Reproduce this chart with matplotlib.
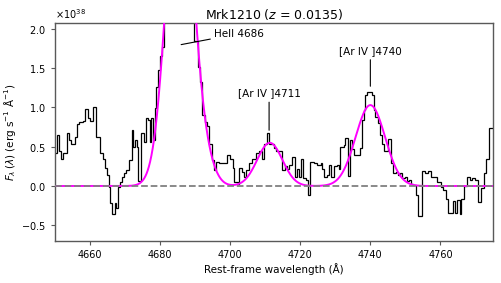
import numpy as np
import matplotlib
matplotlib.use("Agg")
import matplotlib.pyplot as plt

# ---- data ----
# left edges of spectral steps (rest-frame Angstrom) and flux (units of 1e38 erg/s/A)
seg_start = [4650.0, 4650.5, 4651.1, 4651.8, 4652.4, 4653.3, 4654.0, 4654.6, 4655.6, 4656.2,
             4656.8, 4658.1, 4658.7, 4659.4, 4660.1, 4660.8, 4661.7, 4662.7, 4663.7, 4664.4,
             4664.9, 4665.3, 4665.8, 4666.3, 4667.0, 4667.5, 4668.0, 4668.6, 4669.1, 4669.8,
             4670.4, 4671.0, 4671.9, 4672.4, 4672.9, 4673.4, 4673.7, 4674.6, 4675.3, 4676.0,
             4676.5, 4677.0, 4677.5, 4677.9, 4678.4, 4678.9, 4679.5, 4680.0, 4680.5, 4681.0,
             4681.6, 4682.2, 4682.8, 4683.4, 4684.0, 4684.6, 4685.2, 4685.8, 4686.4, 4687.0,
             4687.6, 4688.2, 4688.8, 4689.3, 4689.8, 4690.7, 4691.5, 4692.0, 4692.7, 4693.4,
             4694.0, 4694.7, 4695.4, 4695.9, 4696.9, 4699.0, 4700.0, 4700.7, 4701.1, 4702.1,
             4702.6, 4703.5, 4704.0, 4704.4, 4705.4, 4706.3, 4707.3, 4708.2, 4709.2, 4709.7,
             4710.4, 4711.1, 4712.5, 4713.0, 4714.7, 4715.6, 4716.3, 4716.8, 4717.7, 4718.5,
             4719.1, 4719.6, 4720.1, 4720.7, 4721.5, 4722.3, 4722.9, 4723.9, 4724.8, 4725.8,
             4726.2, 4726.7, 4727.6, 4728.3, 4728.9, 4729.5, 4730.5, 4731.0, 4731.4, 4732.4,
             4732.9, 4733.5, 4734.1, 4734.7, 4735.3, 4737.1, 4737.6, 4738.1, 4738.5, 4739.0,
             4740.6, 4740.9, 4741.4, 4742.3, 4742.8, 4743.3, 4743.8, 4745.0, 4745.8, 4746.6,
             4747.3, 4747.8, 4748.5, 4749.0, 4749.9, 4750.4, 4751.0, 4751.6, 4752.3, 4753.0,
             4753.5, 4754.6, 4755.6, 4756.5, 4757.3, 4758.9, 4760.1, 4760.8, 4761.5, 4762.2,
             4763.6, 4764.1, 4764.8, 4765.5, 4766.0, 4766.8, 4767.7, 4768.4, 4768.9, 4769.8,
             4770.7, 4771.6, 4772.3, 4773.1, 4774.0]
seg_end = 4775.0
flux = [0.42, 0.65, 0.44, 0.35, 0.42, 0.67, 0.59, 0.53, 0.62, 0.79,
        0.81, 0.83, 0.98, 0.86, 0.83, 1.01, 0.62, 0.42, 0.35, 0.23,
        0.14, -0.01, -0.22, -0.35, -0.22, -0.28, -0.01, 0.05, 0.11, 0.16,
        0.21, 0.33, 0.71, 0.50, 0.59, 0.50, 0.06, 0.67, 0.56, 0.86,
        0.84, 0.56, 0.86, 0.59, 0.99, 1.26, 1.48, 1.65, 1.77, 2.6,
        3.4, 4.0, 4.4, 4.6, 4.7, 4.8, 4.9, 4.7, 4.5, 4.0,
        3.4, 2.9, 2.4, 2.2, 1.84, 1.52, 1.33, 0.90, 0.82, 0.76,
        0.54, 0.33, 0.20, 0.31, 0.29, 0.39, 0.35, 0.23, 0.05, 0.03,
        0.23, 0.18, 0.12, 0.20, 0.29, 0.35, 0.42, 0.44, 0.35, 0.54,
        0.67, 0.54, 0.48, 0.44, 0.20, 0.25, 0.22, 0.27, 0.37, 0.12,
        0.22, 0.12, 0.35, 0.10, 0.08, -0.11, 0.31, 0.29, 0.27, 0.29,
        0.22, 0.12, 0.14, 0.27, 0.12, 0.25, 0.27, 0.22, 0.50, 0.52,
        0.61, 0.13, 0.59, 0.47, 0.40, 0.48, 0.84, 0.97, 1.16, 1.20,
        1.16, 0.97, 0.88, 0.80, 0.65, 0.54, 0.44, 0.60, 0.29, 0.16,
        0.18, 0.14, 0.16, 0.10, 0.12, 0.06, 0.08, 0.03, 0.01, -0.11,
        -0.38, 0.19, 0.17, 0.19, 0.11, 0.05, -0.01, -0.05, -0.16, -0.34,
        -0.19, -0.34, -0.18, -0.36, -0.17, 0.00, 0.12, 0.08, 0.10, 0.08,
        -0.20, -0.03, 0.16, 0.35, 0.74]

# Gaussian fit components: amplitude (1e38), centre (A), sigma (A)
fit_amp = [4.35, 0.20, 0.55, 1.03]
fit_cen = [4685.65, 4693.0, 4711.3, 4740.0]
fit_sig = [3.7, 2.8, 3.6, 4.2]

title = "Mrk1210 ($z$ = 0.0135)"
scale = 1e38

# ---- figure ----
fig = plt.figure(figsize=(5.01, 2.83), dpi=100)
ax = fig.add_axes([0.1098, 0.1484, 0.984 - 0.1098, 0.919 - 0.1484])

edges = np.array(seg_start + [seg_end])
f = np.array(flux) * scale
ax.stairs(f, edges, color="black", lw=0.9, baseline=None, zorder=2)

xx = np.linspace(4650, 4775, 2000)
model = np.zeros_like(xx)
for a, c, s in zip(fit_amp, fit_cen, fit_sig):
    model += a * np.exp(-0.5 * ((xx - c) / s) ** 2)
ax.plot(xx, model * scale, color="#ff00ff", lw=1.4, zorder=3)

ax.axhline(0, color="0.5", ls="--", lw=1.3, zorder=4)

ax.set_xlim(4650, 4775)
ax.set_ylim(-0.7 * scale, 2.076 * scale)
ax.set_xticks([4660, 4680, 4700, 4720, 4740, 4760])
ax.set_yticks(np.array([-0.5, 0.0, 0.5, 1.0, 1.5, 2.0]) * scale)
ax.ticklabel_format(axis="y", style="sci", scilimits=(0, 0), useMathText=True)
ax.tick_params(labelsize=7, length=3, width=0.8, color="0.35")
ax.yaxis.get_offset_text().set_fontsize(7)
for sp in ax.spines.values():
    sp.set_color("0.35")
    sp.set_linewidth(1.0)

ax.set_xlabel("Rest-frame wavelength (Å)", fontsize=7.5, labelpad=2)
ax.set_ylabel(r"$F_\lambda\,(\lambda)$ (erg s$^{-1}$ Å$^{-1}$)", fontsize=7.5, labelpad=2)
ax.set_title(title, fontsize=9, pad=3)

arr = dict(arrowstyle="-", color="black", lw=0.8, shrinkA=1, shrinkB=0)
ax.annotate("HeII 4686", xy=(4686.0, 1.80 * scale), xytext=(4695.5, 1.94 * scale),
            ha="left", va="center", fontsize=7.5, arrowprops=arr)
ax.annotate("[Ar IV ]4711", xy=(4711.1, 0.71 * scale), xytext=(4711.1, 1.12 * scale),
            ha="center", va="bottom", fontsize=7.5, arrowprops=arr)
ax.annotate("[Ar IV ]4740", xy=(4740.0, 1.27 * scale), xytext=(4740.0, 1.66 * scale),
            ha="center", va="bottom", fontsize=7.5, arrowprops=arr)

fig.savefig("out.png", dpi=100)
